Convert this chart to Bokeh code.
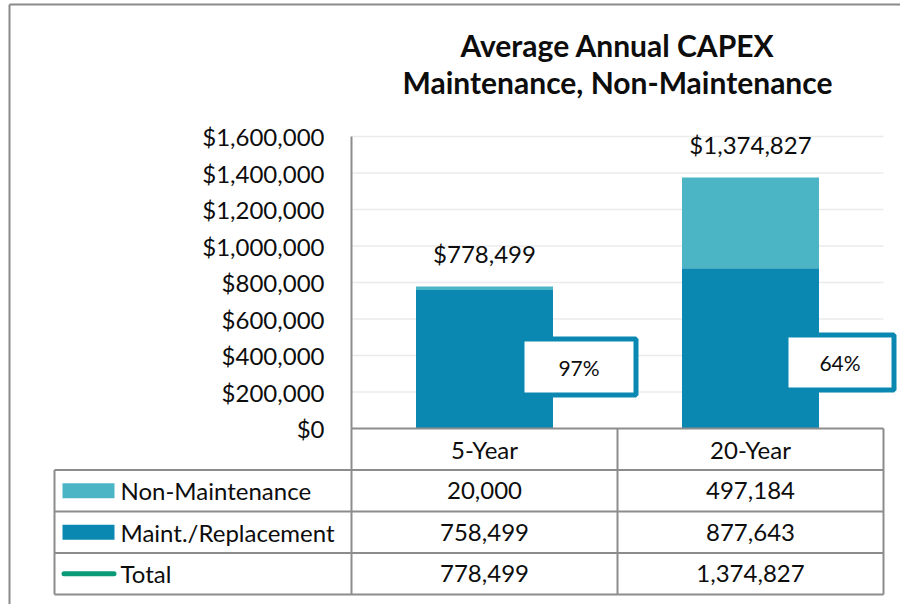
from bokeh.plotting import figure
from bokeh.models import Range1d, FixedTicker, NumeralTickFormatter, ColumnDataSource
from bokeh.core.properties import value
from bokeh.embed import file_html
from bokeh.resources import INLINE

# ---------------- data ----------------
categories = ["5-Year", "20-Year"]
non_maint = [20000, 497184]
maint = [758499, 877643]
total = [778499, 1374827]
row_names = ["Non-Maintenance", "Maint./Replacement", "Total"]
y_ticks = [0, 200000, 400000, 600000, 800000, 1000000, 1200000, 1400000, 1600000]
title_lines = ["Average Annual CAPEX", "Maintenance, Non-Maintenance"]

# ---------------- layout / style ----------------
W, H = 900, 604
M = 0                 # canvas origin in image px
AX_X = 351            # image px of the value axis
AX_Y = 428            # image px of $0
CAT_PX = 266          # px per category
PLOT_H = 292          # px from $0 to top tick
ROW_PX = 41.5         # table row height
TBL_LEFT = 54         # image px of table left edge
BORDER_X, BORDER_Y = 9, 4
UPX = y_ticks[-1] / PLOT_H
FONT = "Lato"
TXT = "#0d0d0d"
GRAY = "#8c8c8c"
C_MAINT = "#0b88b2"
C_NON = "#4bb5c6"
C_TOTAL = "#0a9a78"
FS = "24px"


def dx(px):
    return (px - AX_X) / CAT_PX


def vy(px):
    return (AX_Y - px) * UPX


def ty(px):
    return (px - AX_Y) / ROW_PX


n = len(categories)
centers = [i + 0.5 for i in range(n)]

p = figure(width=W, height=H, output_backend="svg", toolbar_location=None,
           x_range=Range1d(dx(M), dx(M + W)),
           y_range=Range1d(vy(M + H), vy(M)),
           min_border=0, min_border_left=0, min_border_right=0,
           min_border_top=0, min_border_bottom=0,
           outline_line_color=None, background_fill_color="white",
           border_fill_color="white")
p.extra_y_ranges = {"tbl": Range1d(start=ty(M + H), end=ty(M))}
p.xgrid.visible = False
p.ygrid.visible = False

# y axis drawn at x = 0
ya = p.yaxis[0]
ya.fixed_location = 0
ya.ticker = FixedTicker(ticks=y_ticks)
ya.formatter = NumeralTickFormatter(format="$0,0")
ya.bounds = (y_ticks[0], y_ticks[-1])
ya.axis_line_color = GRAY
ya.axis_line_width = 2
ya.major_tick_line_color = None
ya.minor_tick_line_color = None
ya.major_label_standoff = 21
ya.major_label_text_font = FONT
ya.major_label_text_font_size = FS
ya.major_label_text_color = TXT

# x axis drawn at $0
xa = p.xaxis[0]
xa.fixed_location = 0
xa.ticker = FixedTicker(ticks=centers)
xa.major_label_overrides = {c: lab for c, lab in zip(centers, categories)}
xa.bounds = (0, n)
xa.axis_line_color = GRAY
xa.axis_line_width = 2
xa.major_tick_line_color = None
xa.minor_tick_line_color = None
xa.major_label_standoff = 0
xa.major_label_text_font = FONT
xa.major_label_text_font_size = FS
xa.major_label_text_color = TXT

# outer chart border (top / left)
p.segment(x0=[dx(BORDER_X), dx(BORDER_X)], y0=[vy(BORDER_Y), vy(BORDER_Y)],
          x1=[dx(M + W), dx(BORDER_X)], y1=[vy(BORDER_Y), vy(M + H)],
          line_color="#8a8a8a", line_width=2)

# gridlines
gt = [t for t in y_ticks if t > 0]
p.segment(x0=[0] * len(gt), x1=[n] * len(gt), y0=gt, y1=gt,
          line_color="#ebebeb", line_width=1.5)

# stacked bars
src = ColumnDataSource(dict(x=centers, maint=maint, non=non_maint, total=total))
BAR_W = 0.515
p.vbar(x="x", width=BAR_W, bottom=0, top="maint", source=src,
       fill_color=C_MAINT, line_color=None)
p.vbar(x="x", width=BAR_W, bottom="maint", top="total", source=src,
       fill_color=C_NON, line_color=None)

# total labels
p.text(x=centers, y=total, text=[f"${v:,}" for v in total], y_offset=-33,
       text_align="center", text_baseline="middle", text_font=value(FONT),
       text_font_size=FS, text_color=TXT)

# percentage callouts (maint share)
pct = [f"{round(m / t * 100)}%" for m, t in zip(maint, total)]
PCT_DX_PX = [94.5, 89.5]
PCT_Y_PX = [366.5, 362]
PCT_W = [114, 108]
PCT_H = [56, 55]
px_ = [c + d / CAT_PX for c, d in zip(centers, PCT_DX_PX)]
py_ = [vy(v) for v in PCT_Y_PX]
p.rect(x=px_, y=py_, width=PCT_W, height=PCT_H, width_units="screen",
       height_units="screen", fill_color="white", line_color=C_MAINT, line_width=5)
p.text(x=px_, y=py_, text=pct, text_align="center", text_baseline="middle",
       text_font=value(FONT), text_font_size="21px", text_color=TXT)

# title
p.text(x=[n / 2] * 2, y=[vy(44), vy(81)], text=title_lines, text_align="center",
       text_baseline="middle", text_font=value(FONT), text_font_size="30px",
       text_font_style="bold", text_color=TXT)

# data table grid
xl = dx(TBL_LEFT)
rows = len(row_names)
hy = list(range(1, rows + 2))
p.segment(x0=[xl] * len(hy), x1=[n] * len(hy), y0=hy, y1=hy,
          line_color=GRAY, line_width=2, y_range_name="tbl")
vx = [xl, 0] + list(range(1, n + 1))
vy0 = [1, 0] + [0] * n
p.segment(x0=vx, x1=vx, y0=vy0, y1=[rows + 1] * len(vx),
          line_color=GRAY, line_width=2, y_range_name="tbl")

# legend keys
row_c = [r + 1.5 for r in range(rows)]
p.rect(x=[dx(88)] * 2, y=row_c[:2], width=52, height=15, width_units="screen",
       height_units="screen", fill_color=[C_NON, C_MAINT], line_color=None,
       y_range_name="tbl")
p.segment(x0=[dx(63.5)], x1=[dx(113.5)], y0=[row_c[2]], y1=[row_c[2]],
          line_color=C_TOTAL, line_width=5, line_cap="round", y_range_name="tbl")

p.text(x=[dx(120)] * rows, y=row_c, text=row_names, text_align="left",
       text_baseline="middle", text_font=value(FONT), text_font_size=FS,
       text_color=TXT, y_range_name="tbl")

# table values
vals = [non_maint, maint, total]
tx, tyv, tt = [], [], []
for r, series in enumerate(vals):
    for c, v in zip(centers, series):
        tx.append(c)
        tyv.append(row_c[r])
        tt.append(f"{v:,}")
p.text(x=tx, y=tyv, text=tt, text_align="center", text_baseline="middle",
       text_font=value(FONT), text_font_size=FS, text_color=TXT,
       y_range_name="tbl")

open("out.html", "w").write(file_html(p, INLINE))
